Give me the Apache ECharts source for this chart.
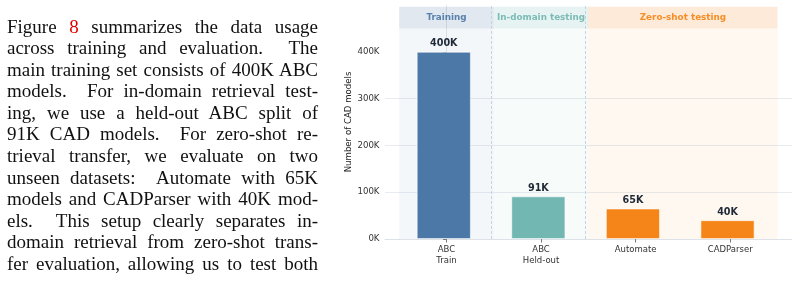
<!DOCTYPE html>
<html>
<head>
<meta charset="utf-8">
<script src="https://cdn.jsdelivr.net/npm/echarts@6/dist/echarts.min.js"></script>
<style>
html,body{margin:0;padding:0;background:#fff;width:798px;height:284px;overflow:hidden;}
#chart{position:absolute;left:0;top:0;width:798px;height:284px;}
#text{position:absolute;left:7px;top:15.5px;width:311px;font-family:"Liberation Serif","Times New Roman",serif;font-size:19px;line-height:21.6px;color:#111;z-index:2;}
#text div{text-align:justify;text-align-last:justify;white-space:nowrap;}
.ref{color:#e00000;}
</style>
</head>
<body>
<div id="chart"></div>
<div id="text">
<div>Figure <span class="ref">8</span> summarizes the data usage</div>
<div>across training and evaluation. &nbsp;The</div>
<div>main training set consists of 400K ABC</div>
<div>models. &nbsp;For in-domain retrieval test-</div>
<div>ing, we use a held-out ABC split of</div>
<div>91K CAD models. &nbsp;For zero-shot re-</div>
<div>trieval transfer, we evaluate on two</div>
<div>unseen datasets: &nbsp;Automate with 65K</div>
<div>models and CADParser with 40K mod-</div>
<div>els. &nbsp;This setup clearly separates in-</div>
<div>domain retrieval from zero-shot trans-</div>
<div>fer evaluation, allowing us to test both</div>
</div>
<script>
// ---- data ----
const categories = ['ABC\nTrain', 'ABC\nHeld-out', 'Automate', 'CADParser'];
const values = [400000, 91000, 65000, 40000];
const barColors = ['#4c78a8', '#72b7b2', '#f58518', '#f58518'];
const groupNames = ['Training', 'In-domain testing', 'Zero-shot testing'];
const groupStart = [-0.5, 0.5, 1.5];
const groupEnd = [0.5, 1.5, 3.5];
const groupColors = ['76,120,168', '114,183,178', '245,133,24'];
const yTicks = [0, 100000, 200000, 300000, 400000];
const xTicks = [0, 1, 2, 3];

const kfmt = v => Math.round(v / 1000) + 'K';
const FONT = 'DejaVu Sans';

const bodyAreas = groupNames.map((g, i) => [
  {xAxis: groupStart[i], yAxis: 0, itemStyle: {color: 'rgba(' + groupColors[i] + ',0.06)'}},
  {xAxis: groupEnd[i], yAxis: 450000}
]);
const headAreas = groupNames.map((g, i) => [
  {name: g, xAxis: groupStart[i], yAxis: 450000,
   itemStyle: {color: 'rgba(' + groupColors[i] + ',0.17)'},
   label: {color: 'rgba(' + groupColors[i] + ',0.92)'}},
  {xAxis: groupEnd[i], yAxis: 496000}
]);

const chart = echarts.init(document.getElementById('chart'), null, {renderer: 'canvas'});
chart.setOption({
  animation: false,
  textStyle: {fontFamily: FONT},
  grid: {left: 385, right: 6.3, top: 5, bottom: 45},
  xAxis: {
    type: 'value', min: -0.65, max: 3.65,
    axisLine: {show: true, lineStyle: {color: '#dde2e9', width: 1}},
    axisTick: {show: true, customValues: xTicks, length: 3.5, lineStyle: {color: '#777'}},
    axisLabel: {customValues: xTicks, formatter: v => categories[Math.round(v)] || '',
      fontFamily: FONT, fontSize: 8.5, color: '#333', margin: 6, lineHeight: 10.5},
    splitLine: {show: false}
  },
  yAxis: {
    type: 'value', min: 0, max: 500000, interval: 100000,
    name: 'Number of CAD models', nameLocation: 'middle', nameGap: 32, nameMoveOverlap: false,
    nameTextStyle: {fontFamily: FONT, fontSize: 8.6, color: '#222'},
    axisLine: {show: true, lineStyle: {color: '#e3e6ea', width: 1}},
    axisTick: {show: true, customValues: yTicks, length: 3.5, lineStyle: {color: '#777'}},
    axisLabel: {customValues: yTicks, formatter: kfmt, fontFamily: FONT, fontSize: 8.6, color: '#333', margin: 5.5},
    splitLine: {show: true, showMaxLine: false, lineStyle: {color: '#e8ecf1', width: 1}}
  },
  series: [
    {
      type: 'bar',
      barWidth: 54,
      data: values.map((v, i) => ({value: [xTicks[i], v], itemStyle: {color: barColors[i]}})),
      itemStyle: {borderColor: 'rgba(255,255,255,0.7)', borderWidth: 0.8},
      label: {show: true, position: 'top', distance: 3, formatter: p => kfmt(p.value[1]),
        fontFamily: FONT, fontWeight: 'bold', fontSize: 9.6, color: '#1f2937'},
      markArea: {silent: true, data: bodyAreas, label: {show: false}},
      markLine: {
        silent: true, symbol: ['none', 'none'],
        label: {show: false},
        lineStyle: {type: [3, 2], color: '#cbd2db', width: 1},
        data: [{xAxis: 0.5}, {xAxis: 1.5}]
      },
      z: 3
    },
    {
      type: 'bar', data: [],
      markArea: {silent: true, data: headAreas,
        label: {show: true, position: 'inside', fontFamily: FONT, fontWeight: 'bold', fontSize: 8.8}}
    }
  ]
});
</script>
</body>
</html>
